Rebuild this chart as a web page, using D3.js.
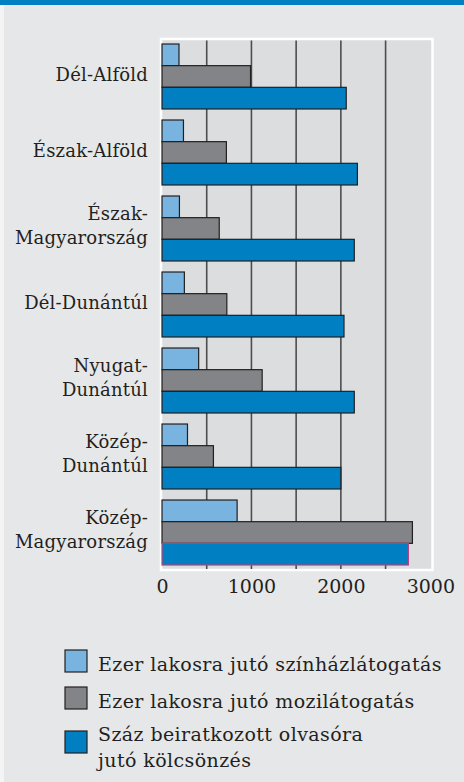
<!DOCTYPE html>
<html>
<head>
<meta charset="utf-8">
<script src="https://cdn.jsdelivr.net/npm/d3@7"></script>
<style>
  body { margin: 0; background: #e6e7e9; }
  svg { display: block; }
  text { font-family: "DejaVu Serif", serif; fill: #231f20; }
</style>
</head>
<body>
<div id="chart"></div>
<script>
var svgWidth = 464;
var svgHeight = 782;

// regions, label lines split where the original wraps
var regions = [
  ["Dél-Alföld"],
  ["Észak-Alföld"],
  ["Észak-", "Magyarország"],
  ["Dél-Dunántúl"],
  ["Nyugat-", "Dunántúl"],
  ["Közép-", "Dunántúl"],
  ["Közép-", "Magyarország"]
];

var theatreVisits = [190, 240, 195, 250, 410, 285, 840];
var cinemaVisits = [990, 720, 640, 725, 1120, 575, 2800];
var libraryLoans = [2060, 2185, 2150, 2035, 2150, 2000, 2755];

var seriesNames = [
  ["Ezer lakosra jutó színházlátogatás"],
  ["Ezer lakosra jutó mozilátogatás"],
  ["Száz beiratkozott olvasóra", "jutó kölcsönzés"]
];
var seriesColors = ["#79b3df", "#838487", "#0080c3"];

var tickValues = [0, 1000, 2000, 3000];
var gridValues = [500, 1000, 1500, 2000, 2500];

var svg = d3.select("#chart")
  .append("svg")
  .attr("width", svgWidth)
  .attr("height", svgHeight);

// blue top strip and white left edge
svg.append("rect")
  .attr("x", 0).attr("y", 0)
  .attr("width", svgWidth).attr("height", 5)
  .attr("fill", "#0080c3");
svg.append("rect")
  .attr("x", 0).attr("y", 5)
  .attr("width", 4).attr("height", svgHeight)
  .attr("fill", "#f4f4f5");

var xScale = d3.scaleLinear()
  .domain([0, 3000])
  .range([162, 430.3]);

var yScale = d3.scaleBand()
  .domain(d3.range(regions.length))
  .range([44, 565])
  .paddingInner(0.145)
  .paddingOuter(0);

var subScale = d3.scaleBand()
  .domain([0, 1, 2])
  .range([0, yScale.bandwidth()]);

// plot background
svg.append("rect")
  .attr("x", 161)
  .attr("y", 39)
  .attr("width", 271.5)
  .attr("height", 531)
  .attr("fill", "#dcdddf")
  .attr("stroke", "#ffffff")
  .attr("stroke-width", 2.5);

svg.append("g")
  .selectAll("line")
  .data(gridValues)
  .enter()
  .append("line")
  .attr("x1", d => xScale(d))
  .attr("x2", d => xScale(d))
  .attr("y1", 40.5)
  .attr("y2", 569)
  .attr("stroke", "#4d4d4f")
  .attr("stroke-width", 1.6);

var xAxis = d3.axisBottom(xScale)
  .tickValues(tickValues)
  .tickSize(0)
  .tickPadding(0)
  .tickFormat(d3.format("d"));

var axisGroup = svg.append("g")
  .attr("transform", "translate(0, 593)")
  .call(xAxis);
axisGroup.select(".domain").remove();
axisGroup.selectAll("text")
  .attr("font-family", "DejaVu Serif")
  .attr("font-size", 19)
  .attr("fill", "#231f20")
  .attr("y", 0)
  .attr("dy", 0);

var seriesData = [theatreVisits, cinemaVisits, libraryLoans];

var groups = svg.append("g")
  .selectAll("g")
  .data(regions)
  .enter()
  .append("g")
  .attr("transform", (d, i) => `translate(0, ${yScale(i)})`);

groups.selectAll("rect")
  .data((d, i) => seriesData.map((s, k) => ({ k: k, value: s[i], last: i === regions.length - 1 })))
  .enter()
  .append("rect")
  .attr("x", xScale(0))
  .attr("y", d => subScale(d.k))
  .attr("width", d => xScale(d.value) - xScale(0))
  .attr("height", subScale.bandwidth())
  .attr("fill", d => seriesColors[d.k])
  .attr("stroke", d => (d.last && d.k === 2) ? "#b8427e" : "#231f20")
  .attr("stroke-width", 1.2);

// region labels
groups.append("text")
  .attr("text-anchor", "end")
  .attr("font-size", 18)
  .attr("letter-spacing", 0.2)
  .selectAll("tspan")
  .data(d => d.map((line, j) => ({ line: line, j: j, n: d.length })))
  .enter()
  .append("tspan")
  .attr("x", 148)
  .attr("y", d => yScale.bandwidth() / 2 + (d.n > 1 ? 3.3 : 4.5) + (d.j - (d.n - 1) / 2) * 23.5)
  .text(d => d.line);

// legend
var legend = svg.append("g");
var legendY = [650, 687, 731];

legend.selectAll("rect")
  .data(seriesNames)
  .enter()
  .append("rect")
  .attr("x", 65)
  .attr("y", (d, i) => legendY[i])
  .attr("width", 22)
  .attr("height", 22)
  .attr("fill", (d, i) => seriesColors[i])
  .attr("stroke", "#231f20")
  .attr("stroke-width", 1.2);

legend.selectAll("text")
  .data(seriesNames)
  .enter()
  .append("text")
  .attr("font-size", 19)
  .attr("letter-spacing", 0.4)
  .selectAll("tspan")
  .data((d, i) => d.map((line, j) => ({ line: line, j: j, i: i })))
  .enter()
  .append("tspan")
  .attr("x", 98)
  .attr("y", d => legendY[d.i] + (d.i === 2 ? 10 : 21) + d.j * 26)
  .text(d => d.line);
</script>
</body>
</html>
